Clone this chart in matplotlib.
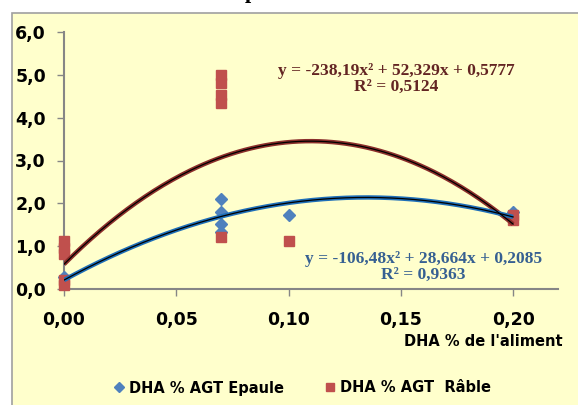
import numpy as np
import matplotlib
matplotlib.use("Agg")
import matplotlib.pyplot as plt
from matplotlib.patches import Rectangle
from matplotlib.ticker import FuncFormatter

# DHA % AGT Epaule (blue diamonds)
epaule_x = [0.00, 0.07, 0.07, 0.07, 0.07, 0.10, 0.20]
epaule_y = [0.28, 2.10, 1.80, 1.52, 1.32, 1.72, 1.80]
# DHA % AGT Râble (red squares)
rable_x = [0.00, 0.00, 0.00, 0.00, 0.00, 0.07, 0.07, 0.07, 0.07, 0.07, 0.10, 0.20, 0.20]
rable_y = [1.12, 0.96, 0.81, 0.20, 0.10, 4.99, 4.80, 4.52, 4.34, 1.21, 1.11, 1.72, 1.60]

# trendline coefficients (a, b, c) as printed on the chart
epaule_coef = [-106.48, 28.664, 0.2085]
rable_coef = [-238.19, 52.329, 0.5777]
epaule_eq = "y = -106,48x² + 28,664x + 0,2085\nR² = 0,9363"
rable_eq = "y = -238,19x² + 52,329x + 0,5777\nR² = 0,5124"

xticks = [0.00, 0.05, 0.10, 0.15, 0.20]
yticks = [0, 1, 2, 3, 4, 5, 6]

blue = "#4F81BD"
red = "#C0504D"
bg = "#FFFFCC"

fig = plt.figure(figsize=(5.78, 4.05), dpi=100)
fig.patch.set_facecolor("white")
fig.patches.append(Rectangle((12/578, -0.05), 1.2, (405-13)/405 + 0.05, transform=fig.transFigure,
                             facecolor=bg, edgecolor="#A0A0A0", lw=1.2, zorder=-5))
fig.text(0.435, 1.005, "p", fontsize=16, fontweight="bold", family="Liberation Serif",
         va="baseline", ha="center")

ax = fig.add_axes([64/578, (405-289)/405, (558-64)/578, (289-32)/405])
ax.set_facecolor("none")
ax.set_zorder(2)

ax.plot(epaule_x, epaule_y, ls="none", marker="D", ms=6, color=blue, zorder=3, clip_on=False)
ax.plot(rable_x, rable_y, ls="none", marker="s", ms=6.5, color=red, zorder=4, clip_on=False)

xs = np.linspace(0, 0.2, 200)
ax.plot(xs, np.polyval(rable_coef, xs), color="#8A2E2B", lw=3.2, zorder=5, solid_capstyle="butt")
ax.plot(xs, np.polyval(rable_coef, xs), color="black", lw=0.9, zorder=6)
ax.plot(xs, np.polyval(epaule_coef, xs), color="#1F6FB8", lw=3.2, zorder=5, solid_capstyle="butt")
ax.plot(xs, np.polyval(epaule_coef, xs), color="black", lw=0.9, zorder=6)

ax.text(0.148, 4.9, rable_eq, fontsize=12.5, fontweight="bold", family="Liberation Serif",
        color="#632523", ha="center", va="center", linespacing=0.95)
ax.text(0.160, 0.51, epaule_eq, fontsize=12.5, fontweight="bold", family="Liberation Serif",
        color="#366092", ha="center", va="center", linespacing=0.95)

ax.set_xlim(0, 0.22)
ax.set_ylim(0, 6)
ax.set_xticks(xticks)
ax.set_yticks(yticks)
ax.xaxis.set_major_formatter(FuncFormatter(lambda v, p: f"{v:.2f}".replace(".", ",")))
ax.yaxis.set_major_formatter(FuncFormatter(lambda v, p: f"{v:.1f}".replace(".", ",")))
for s in ["top", "right"]:
    ax.spines[s].set_visible(False)
for s in ["left", "bottom"]:
    ax.spines[s].set_color("#868686")
    ax.spines[s].set_linewidth(1.5)
ax.tick_params(axis="both", colors="#868686", length=5, width=1, labelcolor="black", labelsize=12.5)
ax.tick_params(axis="x", pad=11)
ax.tick_params(axis="y", pad=8)
for lab in ax.get_xticklabels() + ax.get_yticklabels():
    lab.set_fontweight("bold")

fig.text(563/578, (405-341)/405, "DHA % de l'aliment", fontsize=10.5, fontweight="bold",
         ha="right", va="center")

h1 = plt.Line2D([], [], ls="none", marker="D", ms=5, color=blue)
h2 = plt.Line2D([], [], ls="none", marker="s", ms=6, color=red)
leg = fig.legend([h1, h2], ["DHA % AGT Epaule", "DHA % AGT  Râble"], loc="center",
                 bbox_to_anchor=(0.52, (405-388)/405), ncol=2, frameon=False,
                 prop={"size": 10.5, "weight": "bold"}, handletextpad=0.1,
                 columnspacing=2.5, handlelength=1.2)

fig.savefig("out.png", dpi=100)
